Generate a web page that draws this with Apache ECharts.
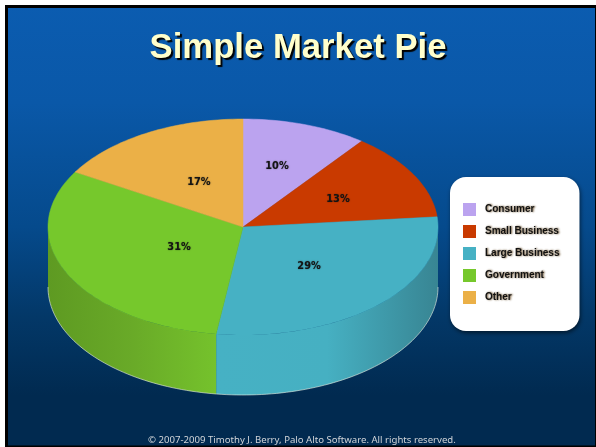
<!DOCTYPE html>
<html>
<head>
<meta charset="utf-8">
<title>Simple Market Pie</title>
<style>
  html, body { margin: 0; padding: 0; background: #fff; }
  #chart { width: 596px; height: 447px; }
</style>
<script src="https://cdn.jsdelivr.net/npm/echarts@6/dist/echarts.min.js"></script>
</head>
<body>
<div id="chart"></div>
<script>
// data (labels show the rounded share)
const categories = ['Consumer', 'Small Business', 'Large Business', 'Government', 'Other'];
const shares = [10.4, 13.1, 28.7, 31.3, 16.5];

const topColors = ['#BBA3EF', '#C93A00', '#46B1C4', '#76C82C', '#EBB047'];
const wallColors = [
    ['#BBA3EF', '#BBA3EF'],
    ['#C93A00', '#C93A00'],
    ['#46B1C4', '#46B0C2', '#388593'],
    ['#5E9A22', '#69AA28', '#75C22C'],
    ['#EBB047', '#EBB047']
];
// how far out along the radius each label sits, across and down
const labelReachX = [0.543, 0.557, 0.49, 0.364, 0.456];
const labelReachY = [0.596, 0.536, 0.50, 0.427, 0.479];

// ellipse of the tilted pie
const cx = 243, cy = 227, rx = 195, ry = 108, depth = 60;

const total = shares.reduce((a, b) => a + b, 0);
const starts = [];
shares.reduce((acc, v, i) => { starts[i] = acc; return acc + v; }, 0);

// angle in degrees, clockwise from twelve o'clock
const punto = (deg, dy = 0) => {
    const a = deg * Math.PI / 180;
    return [cx + rx * Math.sin(a), cy - ry * Math.cos(a) + dy];
};

const arco = (from, to, dy = 0) => {
    const pts = [];
    const n = Math.max(2, Math.ceil((to - from) / 1.5));
    for (let i = 0; i <= n; i++) {
        pts.push(punto(from + (to - from) * i / n, dy));
    }
    return pts;
};

const dibujarPorcion = (i) => (params, api) => {
    const value = api.value(0);
    const from = starts[i] / total * 360;
    const to = from + value / total * 360;
    const children = [];

    // only the front half of the rim can be seen
    const wallFrom = Math.max(from, 90);
    const wallTo = Math.min(to, 270);
    if (wallTo > wallFrom) {
        const upper = arco(wallFrom, wallTo);
        const lower = arco(wallFrom, wallTo, depth);
        const colors = wallColors[i];
        children.push({
            type: 'polygon',
            shape: { points: upper.concat(lower.slice().reverse()) },
            style: {
                fill: new echarts.graphic.LinearGradient(
                    0, 0, 1, 0,
                    colors.map((c, k) => ({ offset: k / (colors.length - 1), color: c }))
                )
            }
        });
        children.push({
            type: 'polyline',
            shape: { points: lower },
            style: { fill: null, stroke: 'rgba(235,240,225,0.6)', lineWidth: 1 }
        });
    }

    const rim = arco(from, to);
    children.push({
        type: 'polygon',
        shape: { points: [[cx, cy]].concat(rim) },
        style: { fill: topColors[i], stroke: topColors[i], lineWidth: 0.5 }
    });

    const mid = (from + to) / 2 * Math.PI / 180;
    children.push({
        type: 'text',
        x: cx + rx * labelReachX[i] * Math.sin(mid),
        y: cy - ry * labelReachY[i] * Math.cos(mid),
        style: {
            text: Math.round(value) + '%',
            fill: '#141414',
            font: 'bold 9.8px "DejaVu Sans", sans-serif',
            align: 'center',
            verticalAlign: 'middle',
            textShadowColor: 'rgba(0,0,0,0.5)',
            textShadowBlur: 1.5
        }
    });
    return { type: 'group', children };
};

const iniciarGrafico = () => {
    const grafico = echarts.init(document.getElementById('chart'), null, { renderer: 'canvas' });

    const option = {
        animation: false,
        backgroundColor: '#fff',
        title: [
            {
                text: 'Simple Market Pie',
                left: 'center',
                top: 26,
                textStyle: {
                    color: '#FFFFCC',
                    fontFamily: '"Liberation Sans", Arial, sans-serif',
                    fontWeight: 'bold',
                    fontSize: 34.7,
                    textShadowColor: '#000',
                    textShadowBlur: 1,
                    textShadowOffsetX: 2,
                    textShadowOffsetY: 2
                }
            },
            {
                text: '© 2007-2009 Timothy J. Berry, Palo Alto Software. All rights reserved.',
                left: 148,
                top: 435,
                padding: 0,
                textStyle: {
                    color: '#D0D4D8',
                    fontFamily: '"Noto Sans", sans-serif',
                    fontWeight: 'normal',
                    fontSize: 9.6
                }
            }
        ],
        legend: {
            orient: 'vertical',
            left: 450,
            top: 177,
            padding: [26, 20, 27, 13],
            backgroundColor: '#fff',
            borderRadius: 16,
            shadowColor: 'rgba(0,0,0,0.55)',
            shadowBlur: 4,
            shadowOffsetX: 1,
            shadowOffsetY: 2,
            icon: 'rect',
            itemWidth: 13,
            itemHeight: 13,
            itemGap: 9,
            data: categories,
            textStyle: {
                color: '#111',
                fontFamily: '"Liberation Sans", Arial, sans-serif',
                fontWeight: 'bold',
                fontSize: 10,
                padding: [0, 0, 0, 4],
                textShadowColor: 'rgba(90,60,20,0.95)',
                textShadowBlur: 2,
                textShadowOffsetX: 1
            }
        },
        graphic: [{
            type: 'rect',
            z: -10,
            silent: true,
            shape: { x: 6.5, y: 6.5, width: 590, height: 440.5 },
            style: {
                stroke: '#000',
                lineWidth: 3,
                fill: {
                    type: 'linear', x: 0, y: 0, x2: 0, y2: 1,
                    colorStops: [
                        { offset: 0, color: '#0B5CB0' },
                        { offset: 0.22, color: '#0A58A8' },
                        { offset: 0.5, color: '#054A8C' },
                        { offset: 0.7, color: '#033868' },
                        { offset: 0.88, color: '#012A50' },
                        { offset: 1, color: '#012A50' }
                    ]
                }
            }
        }],
        series: categories.map((name, i) => ({
            type: 'custom',
            name,
            coordinateSystem: 'none',
            silent: true,
            itemStyle: { color: topColors[i] },
            data: [shares[i]],
            renderItem: dibujarPorcion(i)
        }))
    };

    grafico.setOption(option);
};

window.addEventListener('load', iniciarGrafico);
</script>
</body>
</html>
